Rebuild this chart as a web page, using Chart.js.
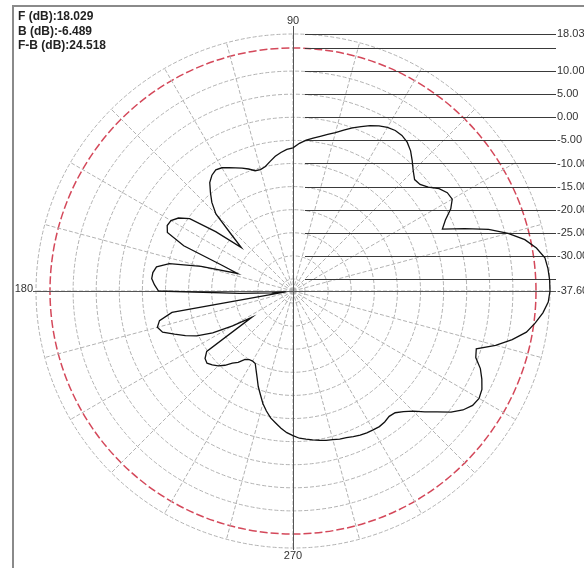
<!DOCTYPE html>
<html>
<head>
<meta charset="utf-8">
<script src="https://cdn.jsdelivr.net/npm/chart.js@4/dist/chart.umd.min.js"></script>
<style>
  html, body { margin: 0; padding: 0; background: #ffffff; }
  #wrap { width: 584px; height: 568px; position: relative; }
</style>
</head>
<body>
<div id="wrap"><canvas id="c" width="584" height="568"></canvas></div>
<script>
// ---- data (gain in dB, counter-clockwise from 0 deg, every 2.5 deg) ----
const angleStep = 2.5;
const gains = [
  18.03, 18.0, 17.8, 17.4, 15.9, 13.8, 10.6, 6.8, 1.9, -2.6, -1.2, 0.9,
  2.2, 2.0, 1.0, -0.7, -1.7, -1.9, -0.8, 0.6, 2.0, 3.0, 3.5, 3.6,
  3.3, 2.7, 1.9, 0.9, 0.0, -1.1, -2.1, -2.9, -3.6, -4.2, -4.8, -5.6,
  -6.6, -6.9, -7.5, -8.2, -9.1, -10.0, -10.4, -10.3, -9.5, -8.8, -8.2, -7.5,
  -6.8, -6.5, -7.0, -8.0, -9.8, -11.6, -14.0, -19.5, -23.0, -16.5, -10.3, -8.2,
  -7.1, -6.9, -7.6, -12.0, -21.0, -25.0, -17.0, -10.2, -7.6, -7.0, -6.9, -7.6,
  -8.5, -26.0, -33.0, -36.0, -11.0, -8.0, -7.2, -8.0, -10.3, -12.4, -14.6, -18.0,
  -22.5, -27.0, -14.8, -13.6, -13.3, -13.9, -14.7, -15.8, -17.2, -18.1, -19.5, -20.0,
  -20.1, -19.9, -18.7, -17.3, -15.6, -14.1, -12.4, -11.0, -9.7, -8.8, -7.8, -6.9,
  -6.3, -5.7, -5.4, -5.1, -4.8, -4.5, -4.3, -4.0, -3.8, -3.5, -3.2, -3.0,
  -2.9, -2.8, -3.0, -3.4, -3.2, -2.2, -0.8, 1.1, 3.1, 5.5, 7.3, 8.5,
  8.9, 8.5, 7.5, 6.3, 4.5, 4.0, 7.8, 11.0, 13.7, 15.3, 16.7, 17.7
];
const tickValues = [-37.6, -35, -30, -25, -20, -15, -10, -5, 0, 5, 10, 15, 18.03];
const tickLabels = ['-37.60', '', '-30.00', '-25.00', '-20.00', '-15.00', '-10.00', '-5.00', '0.00', '5.00', '10.00', '', '18.03'];
const redRingValue = 15;
const angleLabels = [{deg: 90, text: '90'}, {deg: 180, text: '180'}, {deg: 270, text: '270'}];
const infoLines = ['F (dB):18.029', 'B (dB):-6.489', 'F-B (dB):24.518'];
const spokeEvery = 15;

// radar goes clockwise; start at 3 o'clock and walk clockwise (= decreasing angle)
const N = gains.length;
const labels = [], values = [];
for (let i = 0; i < N; i++) {
  const k = (N - i) % N;
  labels.push(String(k * angleStep));
  values.push(gains[k]);
}
const idxForDeg = d => ((N - Math.round(d / angleStep)) % N);

const overlay = {
  id: 'overlay',
  beforeDatasetsDraw(chart) {
    const s = chart.scales.r, ctx = chart.ctx;
    const cx = s.xCenter, cy = s.yCenter, R = s.drawingArea;
    ctx.save();
    // frame
    ctx.strokeStyle = '#8a8a8a'; ctx.lineWidth = 2;
    ctx.beginPath(); ctx.moveTo(13, 568); ctx.lineTo(13, 6); ctx.lineTo(584, 6); ctx.stroke();
    // leader lines for the dB levels
    ctx.strokeStyle = '#3a3a3a'; ctx.lineWidth = 1;
    tickValues.forEach(v => {
      const y = Math.round(cy - s.getDistanceFromCenterForValue(v)) + 0.5;
      ctx.beginPath(); ctx.moveTo(cx + 12, y); ctx.lineTo(cx + R + 6, y); ctx.stroke();
    });
    // main axes
    ctx.strokeStyle = '#555';
    ctx.beginPath();
    ctx.moveTo(cx + 0.5, cy - R - 8); ctx.lineTo(cx + 0.5, cy + R + 2);
    ctx.moveTo(cx - R - 3, cy + 0.5); ctx.lineTo(cx + R + 6, cy + 0.5);
    ctx.stroke();
    ctx.restore();
  },
  afterDraw(chart) {
    const s = chart.scales.r, ctx = chart.ctx;
    const cx = s.xCenter, cy = s.yCenter, R = s.drawingArea;
    ctx.save();
    ctx.fillStyle = '#333';
    ctx.font = '11px "Liberation Sans", Arial, sans-serif';
    ctx.textBaseline = 'middle';
    ctx.textAlign = 'left';
    tickValues.forEach((v, i) => {
      if (!tickLabels[i]) return;
      const y = cy - s.getDistanceFromCenterForValue(v);
      ctx.fillText(tickLabels[i], cx + R + 7, y);
    });
    angleLabels.forEach(a => {
      const idx = idxForDeg(a.deg);
      let p;
      if (a.deg === 90) { p = s.getPointPosition(idx, R + 13); ctx.textAlign = 'center'; }
      else if (a.deg === 180) { p = s.getPointPosition(idx, R + 3); ctx.textAlign = 'right'; p.y -= 2; }
      else { p = s.getPointPosition(idx, R + 8); ctx.textAlign = 'center'; }
      ctx.fillText(a.text, p.x, p.y);
    });
    ctx.fillStyle = '#222';
    ctx.font = 'bold 12px "Liberation Sans", Arial, sans-serif';
    ctx.textAlign = 'left';
    infoLines.forEach((t, i) => ctx.fillText(t, 18, 17 + i * 14.5));
    ctx.restore();
  }
};

new Chart(document.getElementById('c'), {
  type: 'radar',
  data: {
    labels: labels,
    datasets: [{
      data: values,
      borderColor: '#111',
      borderWidth: 1.3,
      pointRadius: 0,
      fill: false,
      tension: 0
    }]
  },
  options: {
    responsive: false,
    animation: false,
    devicePixelRatio: 1,
    layout: { padding: { left: 36, right: 34, top: 34, bottom: 20 } },
    plugins: { legend: { display: false }, tooltip: { enabled: false } },
    scales: {
      r: {
        min: tickValues[0],
        max: tickValues[tickValues.length - 1],
        startAngle: 90,
        afterBuildTicks: (scale) => { scale.ticks = tickValues.map(v => ({ value: v })); },
        ticks: { display: false },
        pointLabels: { display: false },
        grid: {
          circular: true,
          color: (c) => (c.tick && c.tick.value === redRingValue) ? '#d4485a' : '#b2b2b2',
          lineWidth: (c) => (c.tick && c.tick.value === redRingValue) ? 1.5 : 1
        },
        border: {
          dash: (c) => (c.tick && c.tick.value === redRingValue) ? [8, 3] : [4, 2]
        },
        angleLines: {
          display: true,
          color: (c) => ((c.index * angleStep) % spokeEvery === 0) ? '#b2b2b2' : 'rgba(0,0,0,0)',
          lineWidth: 1,
          borderDash: [4, 2]
        }
      }
    }
  },
  plugins: [overlay]
});
</script>
</body>
</html>
